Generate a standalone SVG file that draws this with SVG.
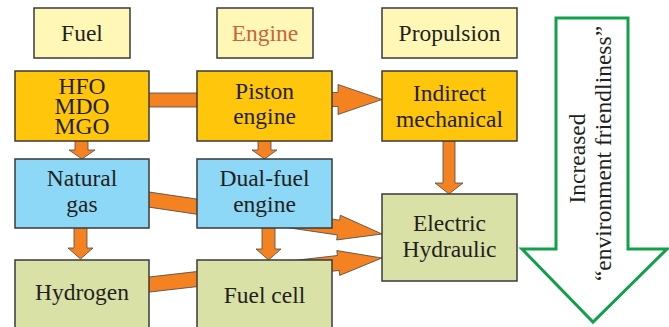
<svg xmlns="http://www.w3.org/2000/svg" width="669" height="327" viewBox="0 0 669 327">
<style>
text{font-size:23.5px;fill:#231F20;text-anchor:middle}
.box{stroke:#3a3a3a;stroke-width:1.5}
.hdr{fill:#FFF7B5}
.gold{fill:#FFC60B}
.blue{fill:#8DD8F6}
.olive{fill:#D9E1A7}
.arr{fill:#F58220;stroke:#4a4a4a;stroke-width:0.8;stroke-linejoin:miter}
.big{fill:#FFFFFF;stroke:#12A04B;stroke-width:3;stroke-linejoin:miter}
</style>
<rect width="669" height="327" fill="#FFFFFF"/>
<g id="connectors">
<rect class="arr" x="145" y="93" width="56" height="14"/>
<path class="arr" transform="translate(330,99.5)" d="M0,-7 H8 V-15 L52,0 L8,15 V7 H0 Z"/>
<path class="arr" transform="translate(145,199) rotate(8.4)" d="M0,-7.5 H195.6 V-12.5 L239.6,0 L195.6,12.5 V7.5 H0 Z"/>
<path class="arr" transform="translate(145,285) rotate(-6.5)" d="M0,-7.5 H194.5 V-12.5 L238.5,0 L194.5,12.5 V7.5 H0 Z"/>
<path class="arr" d="M75,140 H88 V150 H95 L82,159 L69,150 H75 Z"/>
<path class="arr" d="M258,140 H271 V150 H277 L264.5,159 L252,150 H258 Z"/>
<path class="arr" d="M74,227 H87 V248 H93 L80.5,259 L68,248 H74 Z"/>
<path class="arr" d="M262,227 H275 V249 H281 L268.5,260 L256,249 H262 Z"/>
<path class="arr" d="M443,140 H455 V183 H463 L449,194 L435,183 H443 Z"/>
</g>
<g font-family="Liberation Serif, Times New Roman, DejaVu Serif, serif">
<g id="hdr-fuel"><rect class="box hdr" x="34" y="8" width="96" height="50"/><text x="82" y="41">Fuel</text></g>
<g id="hdr-engine"><rect class="box hdr" x="217" y="8" width="96" height="50"/><text x="265" y="41" style="fill:#C8643C">Engine</text></g>
<g id="hdr-propulsion"><rect class="box hdr" x="382" y="8" width="135" height="50"/><text x="449.5" y="41">Propulsion</text></g>
<g id="hfo"><rect class="box gold" x="15" y="71" width="134" height="70"/><text x="82" y="94" font-size="22">HFO</text><text x="82" y="114" font-size="22">MDO</text><text x="82" y="134" font-size="22">MGO</text></g>
<g id="piston"><rect class="box gold" x="197" y="71" width="135" height="70"/><text x="264.5" y="99">Piston</text><text x="264.5" y="124">engine</text></g>
<g id="indirect"><rect class="box gold" x="382" y="71" width="135" height="70"/><text x="449.5" y="101">Indirect</text><text x="449.5" y="127">mechanical</text></g>
<g id="natgas"><rect class="box blue" x="15" y="159" width="134" height="69"/><text x="82" y="186">Natural</text><text x="82" y="212">gas</text></g>
<g id="dualfuel"><rect class="box blue" x="197" y="159" width="135" height="69"/><text x="264.5" y="186">Dual-fuel</text><text x="264.5" y="212">engine</text></g>
<g id="electric"><rect class="box olive" x="382" y="194" width="135" height="87"/><text x="449.5" y="231">Electric</text><text x="449.5" y="257">Hydraulic</text></g>
<g id="hydrogen"><rect class="box olive" x="15" y="260" width="134" height="72"/><text x="82" y="300">Hydrogen</text></g>
<g id="fuelcell"><rect class="box olive" x="197" y="260" width="135" height="72"/><text x="264.5" y="303">Fuel cell</text></g>
<g id="friendliness">
<path class="big" d="M556,18 H628 V249 H667 L593,322 L522,249 H556 Z"/>
<text transform="translate(585,158.5) rotate(-90)" x="0" y="0">Increased</text>
<text transform="translate(611,153.5) rotate(-90)" x="0" y="0">“environment friendliness”</text>
</g>
</g>
</svg>
